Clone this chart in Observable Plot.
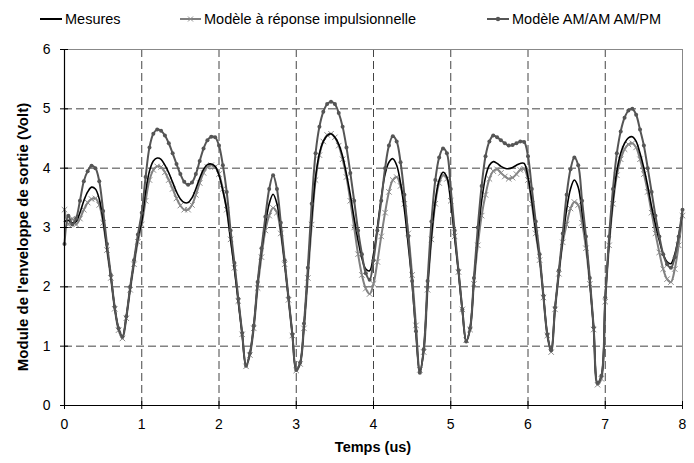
<!DOCTYPE html>
<html><head><meta charset="utf-8">
<script src="https://cdn.jsdelivr.net/npm/d3@7"></script>
<script src="https://cdn.jsdelivr.net/npm/@observablehq/plot@0.6"></script>
<style>
body{margin:0;background:#fff;font-family:Arial,"Liberation Sans",sans-serif;color:#000;}
#wrap{position:relative;width:694px;height:463px;overflow:hidden;background:#fff;}
#legend{position:absolute;left:0;top:0;width:694px;height:40px;font-size:14.5px;}
.item{position:absolute;top:9px;height:20px;display:flex;align-items:center;white-space:nowrap;}
.item svg{margin-right:3px;}
#chart{position:absolute;left:0;top:40px;}
.ytitle{position:absolute;left:22px;top:237px;transform:translate(-50%,-50%) rotate(-90deg);font-weight:bold;font-size:15px;white-space:nowrap;}
.xtitle{position:absolute;left:373px;top:447px;transform:translate(-50%,-50%);font-weight:bold;font-size:14.5px;white-space:nowrap;}
</style>
</head><body>
<div id="wrap">
  <div id="legend"></div>
  <div id="chart"></div>
  <div class="ytitle">Module de l'enveloppe de sortie (Volt)</div>
  <div class="xtitle">Temps (us)</div>
</div>
<script>
const tStep = 0.05;
const seriesNames = ["Mesures", "Modèle à réponse impulsionnelle", "Modèle AM/AM AM/PM"];
const xTicks = [0,1,2,3,4,5,6,7,8];
const yTicks = [0,1,2,3,4,5,6];
const xGrid = [1,2,3,4,5,6,7];
const yGrid = [1,2,3,4,5];

const mesures = [
3.10,3.12,3.08,3.10,3.25,3.45,3.60,3.68,3.65,3.48,
3.12,2.65,2.18,1.65,1.30,1.16,1.50,1.98,2.42,2.82,
3.10,3.60,3.95,4.12,4.17,4.15,4.05,3.92,3.76,3.60,
3.48,3.42,3.42,3.50,3.65,3.83,3.98,4.06,4.07,4.03,
3.88,3.62,3.30,2.80,2.30,1.75,1.20,0.67,0.88,1.35,
2.05,2.60,3.05,3.40,3.56,3.40,2.95,2.40,1.80,1.20,
0.60,0.72,1.35,2.25,3.15,3.85,4.25,4.45,4.55,4.58,
4.52,4.40,4.20,3.90,3.55,3.15,2.78,2.48,2.30,2.27,
2.55,3.00,3.50,3.90,4.10,4.16,4.05,3.75,3.30,2.70,
2.05,1.20,0.55,0.95,2.00,2.85,3.45,3.80,3.93,3.85,
3.45,2.85,2.25,1.60,1.08,1.30,2.10,2.85,3.45,3.85,
4.05,4.11,4.08,4.03,4.00,3.99,4.01,4.05,4.08,4.08,
3.85,3.45,2.95,2.50,1.85,1.20,0.93,1.65,2.25,2.80,
3.30,3.65,3.80,3.68,3.25,2.75,2.10,1.30,0.38,0.50,
1.80,2.75,3.45,3.95,4.25,4.42,4.51,4.53,4.45,4.25,
4.00,3.70,3.35,3.05,2.78,2.55,2.42,2.39,2.55,2.85,
3.25];

const impulsion = [
3.30,3.05,3.15,3.05,3.15,3.30,3.42,3.48,3.49,3.38,
3.08,2.62,2.15,1.63,1.27,1.13,1.47,1.95,2.38,2.76,
3.05,3.45,3.80,3.97,4.03,4.02,3.93,3.80,3.65,3.49,
3.37,3.30,3.30,3.38,3.55,3.75,3.92,4.02,4.05,4.02,
3.90,3.65,3.30,2.80,2.32,1.76,1.20,0.66,0.85,1.30,
1.98,2.50,2.95,3.20,3.33,3.25,2.90,2.38,1.78,1.18,
0.59,0.70,1.30,2.15,3.05,3.80,4.22,4.45,4.56,4.58,
4.52,4.38,4.15,3.85,3.45,3.00,2.55,2.20,1.97,1.88,
2.05,2.42,2.85,3.25,3.60,3.80,3.85,3.70,3.40,2.90,
2.20,1.35,0.60,0.90,1.95,2.80,3.40,3.75,3.88,3.82,
3.45,2.85,2.25,1.62,1.10,1.28,2.05,2.70,3.20,3.55,
3.82,3.95,3.98,3.92,3.86,3.82,3.84,3.90,3.97,3.99,
3.80,3.40,2.90,2.45,1.82,1.18,0.90,1.62,2.22,2.75,
3.05,3.32,3.43,3.38,3.08,2.65,2.05,1.28,0.35,0.45,
1.75,2.70,3.40,3.88,4.15,4.32,4.40,4.42,4.35,4.15,
3.90,3.60,3.25,2.90,2.58,2.30,2.13,2.08,2.30,2.70,
3.20];

const amam = [
2.72,3.20,3.05,3.15,3.45,3.78,3.95,4.04,4.00,3.78,
3.28,2.72,2.20,1.66,1.30,1.16,1.50,2.00,2.45,2.88,
3.25,3.85,4.35,4.58,4.65,4.63,4.55,4.42,4.25,4.07,
3.90,3.77,3.72,3.76,3.90,4.12,4.33,4.47,4.53,4.52,
4.38,4.05,3.60,2.95,2.40,1.80,1.22,0.67,0.88,1.35,
2.08,2.65,3.18,3.65,3.88,3.65,3.08,2.45,1.82,1.20,
0.60,0.72,1.38,2.32,3.40,4.25,4.70,4.95,5.08,5.12,
5.08,4.93,4.70,4.35,3.92,3.45,2.95,2.55,2.23,2.12,
2.45,2.95,3.45,4.00,4.38,4.54,4.45,4.10,3.55,2.85,
2.10,1.25,0.55,0.95,2.10,3.10,3.80,4.18,4.33,4.25,
3.65,2.95,2.28,1.62,1.08,1.30,2.15,3.00,3.70,4.20,
4.45,4.55,4.52,4.47,4.42,4.38,4.39,4.42,4.45,4.44,
4.20,3.65,3.10,2.55,1.85,1.20,0.93,1.65,2.28,2.90,
3.55,3.98,4.18,4.05,3.45,2.85,2.15,1.32,0.38,0.50,
1.82,2.85,3.65,4.25,4.62,4.85,4.97,5.00,4.90,4.65,
4.38,4.00,3.60,3.20,2.85,2.55,2.38,2.32,2.50,2.85,
3.30];

const data = mesures.map((m, i) => ({t: +(i * tStep).toFixed(2), m, p: impulsion[i], a: amam[i]}));

// ---- legend ----
const C = {mes: "#000", imp: "#808080", impMark: "#8c8c8c", am: "#555"};
const legend = d3.select("#legend");
const items = [
  {left: 40, w: 22, name: seriesNames[0], color: C.mes, mark: null},
  {left: 180, w: 21, name: seriesNames[1], color: C.imp, mark: "x"},
  {left: 487, w: 22, name: seriesNames[2], color: C.am, mark: "o"}
];
items.forEach(it => {
  const d = legend.append("div").attr("class", "item").style("left", it.left + "px");
  const s = d.append("svg").attr("width", it.w).attr("height", 10);
  s.append("line").attr("x1", 0).attr("x2", it.w).attr("y1", 5).attr("y2", 5)
    .attr("stroke", it.color).attr("stroke-width", 2);
  const cx = it.w / 2;
  if (it.mark === "x") {
    s.append("path").attr("d", `M${cx-2.5},2.5L${cx+2.5},7.5M${cx-2.5},7.5L${cx+2.5},2.5`)
      .attr("stroke", C.impMark).attr("stroke-width", 1).attr("fill", "none");
  } else if (it.mark === "o") {
    s.append("circle").attr("cx", cx).attr("cy", 5).attr("r", 2.2).attr("fill", it.color);
  }
  d.append("span").text(it.name);
});

// ---- chart ----
const grid = {stroke: "#444", strokeOpacity: 1, strokeWidth: 1, strokeDasharray: "8,4"};
const chart = Plot.plot({
  width: 694, height: 423,
  marginTop: 9, marginBottom: 58, marginLeft: 64, marginRight: 12,
  x: {domain: [0, 8]},
  y: {domain: [0, 6]},
  style: {fontFamily: "Arial, 'Liberation Sans', sans-serif", fontSize: "14px", color: "#000", background: "#fff", overflow: "visible"},
  marks: [
    Plot.gridX(xGrid, grid),
    Plot.gridY(yGrid, grid),
    Plot.frame({stroke: "#888", strokeWidth: 1}),
    Plot.line(data, {x: "t", y: "p", stroke: C.imp, strokeWidth: 2, curve: "catmull-rom"}),
    Plot.dot(data, {x: "t", y: "p", symbol: "times", r: 2.6, stroke: C.impMark, strokeWidth: 1}),
    Plot.line(data, {x: "t", y: "m", stroke: C.mes, strokeWidth: 1.6, curve: "catmull-rom"}),
    Plot.line(data, {x: "t", y: "a", stroke: C.am, strokeWidth: 2, curve: "catmull-rom"}),
    Plot.dot(data, {x: "t", y: "a", r: 2, fill: C.am, stroke: "none"}),
    Plot.ruleX([0], {stroke: "#000", strokeWidth: 1.2}),
    Plot.ruleY([0], {stroke: "#000", strokeWidth: 1.2}),
    Plot.axisX(xTicks, {tickSize: 8, dy: -4, tickFormat: () => "", label: null}),
    Plot.axisX(xTicks, {tickSize: 0, tickPadding: 14, tickFormat: d => String(d), label: null}),
    Plot.axisY(yTicks, {tickSize: 8, dx: 4, tickFormat: () => "", label: null}),
    Plot.axisY(yTicks, {tickSize: 0, tickPadding: 14, tickFormat: d => String(d), label: null})
  ]
});
document.getElementById("chart").appendChild(chart);
</script>
</body></html>
